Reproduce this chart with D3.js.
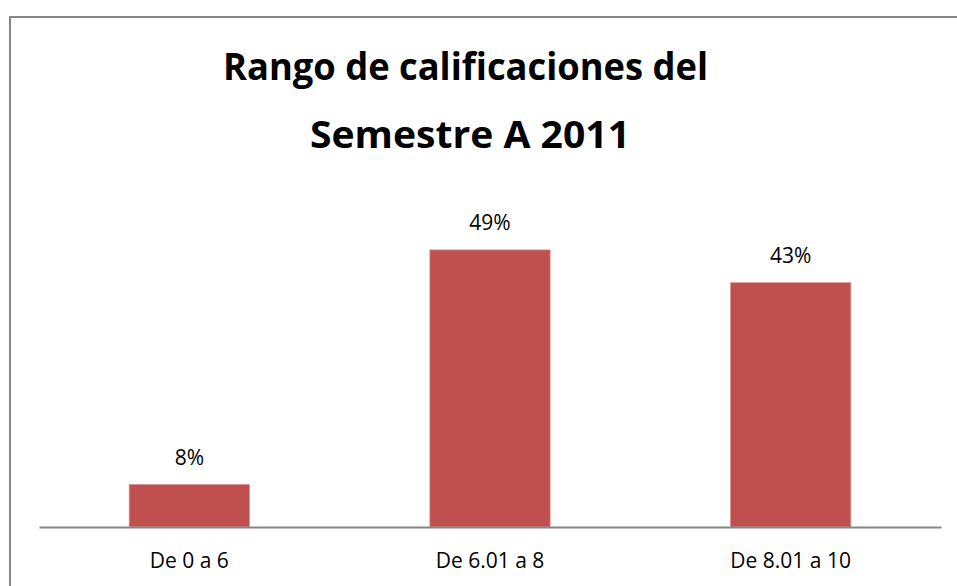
<!DOCTYPE html>
<html><head><meta charset="utf-8">
<script src="https://cdn.jsdelivr.net/npm/d3@7"></script>
<style>html,body{margin:0;padding:0;background:#fff;}svg{display:block;}</style>
</head><body>
<script>
const categories = ["De 0 a 6", "De 6.01 a 8", "De 8.01 a 10"];
const values = [0.075, 0.49, 0.432];
const labels = ["8%", "49%", "43%"];
const titleLines = ["Rango de calificaciones del", "Semestre A 2011"];

const W = 957, H = 586;
const svg = d3.select("body").append("svg").attr("width", W).attr("height", H);

// chart frame (left and top edges visible)
svg.append("path").attr("d", "M10,586 V17 H957")
  .attr("fill", "none").attr("stroke", "#878787").attr("stroke-width", 2);

const x = d3.scaleBand().domain(categories).range([39, 941]).paddingInner(0.6).paddingOuter(0.3);
const y = d3.scaleLinear().domain([0, 0.6]).range([527, 527 - 0.6 * 565.5]);

svg.selectAll("rect.bar").data(categories).enter().append("rect")
  .attr("class", "bar")
  .attr("x", d => x(d))
  .attr("width", x.bandwidth())
  .attr("y", (d, i) => y(values[i]))
  .attr("height", (d, i) => y(0) - y(values[i]))
  .attr("fill", "#C0504D")
  .attr("stroke", "#d9908e").attr("stroke-width", 0.8);

const font = "'Open Sans', 'Noto Sans', sans-serif";

// baseline axis
const ax = svg.append("g").attr("transform", "translate(0,527)")
  .call(d3.axisBottom(x).tickSize(0).tickPadding(0).tickSizeOuter(0));
ax.select(".domain").attr("stroke", "#868686").attr("stroke-width", 2);
ax.selectAll("text").attr("font-family", font)
  .attr("font-size", 21).attr("fill", "#000").attr("dy", null).attr("y", 41);

svg.selectAll("text.val").data(categories).enter().append("text")
  .attr("class", "val")
  .attr("x", d => x(d) + x.bandwidth() / 2)
  .attr("y", (d, i) => y(values[i]) - 20)
  .attr("text-anchor", "middle")
  .attr("font-family", font)
  .attr("font-size", 21).attr("fill", "#000")
  .text((d, i) => labels[i]);

const tw = [485, 320];
const ty = [80, 148];
svg.selectAll("text.title").data(titleLines).enter().append("text")
  .attr("class", "title")
  .attr("x", (d, i) => i === 0 ? 465.5 : 470)
  .attr("y", (d, i) => ty[i])
  .attr("text-anchor", "middle")
  .attr("font-family", font)
  .attr("font-weight", "bold")
  .attr("font-size", 37).attr("fill", "#000")
  .attr("textLength", (d, i) => tw[i])
  .attr("lengthAdjust", "spacingAndGlyphs")
  .text(d => d);
</script>
</body></html>
